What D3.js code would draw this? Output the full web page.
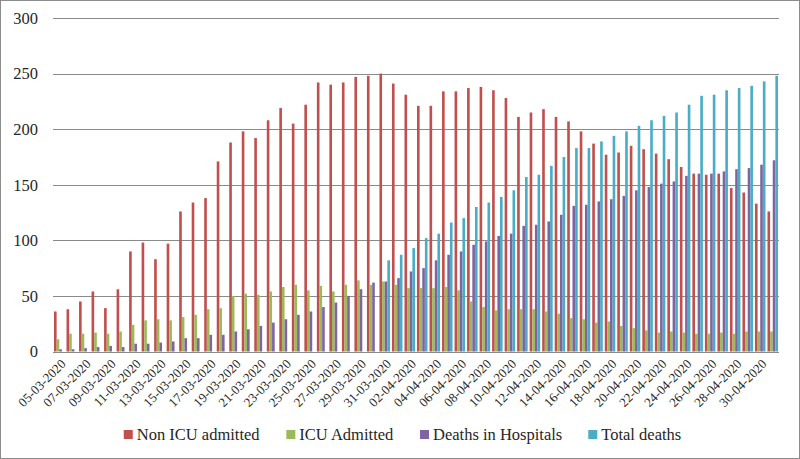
<!DOCTYPE html>
<html>
<head>
<meta charset="utf-8">
<script src="https://cdn.jsdelivr.net/npm/d3@7/dist/d3.min.js"></script>
<style>
  html, body { margin: 0; padding: 0; background: #fff; }
  svg { display: block; }
</style>
</head>
<body>
<svg id="chart" width="800" height="459"></svg>
<script>
const dates = [
  "05-03-2020","06-03-2020","07-03-2020","08-03-2020","09-03-2020","10-03-2020","11-03-2020","12-03-2020",
  "13-03-2020","14-03-2020","15-03-2020","16-03-2020","17-03-2020","18-03-2020","19-03-2020","20-03-2020",
  "21-03-2020","22-03-2020","23-03-2020","24-03-2020","25-03-2020","26-03-2020","27-03-2020","28-03-2020",
  "29-03-2020","30-03-2020","31-03-2020","01-04-2020","02-04-2020","03-04-2020","04-04-2020","05-04-2020",
  "06-04-2020","07-04-2020","08-04-2020","09-04-2020","10-04-2020","11-04-2020","12-04-2020","13-04-2020",
  "14-04-2020","15-04-2020","16-04-2020","17-04-2020","18-04-2020","19-04-2020","20-04-2020","21-04-2020",
  "22-04-2020","23-04-2020","24-04-2020","25-04-2020","26-04-2020","27-04-2020","28-04-2020","29-04-2020",
  "30-04-2020","01-05-2020"
];
const nonIcu = [36,38,45,54,39,56,90,98,83,97,126,134,138,171,188,198,192,208,219,205,222,242,240,242,247,248,250,241,231,221,221,234,234,237,238,235,228,211,215,218,211,207,198,187,177,179,185,182,178,173,166,160,159,160,147,143,133,126];
const icu = [11,16,16,17,16,18,24,28,29,28,31,33,38,39,50,52,51,54,58,60,55,59,54,60,64,60,63,60,57,57,57,58,55,45,40,37,38,38,38,36,34,30,29,26,27,23,21,19,17,18,17,16,16,17,16,18,18,18];
const deathsHosp = [2,2,3,4,5,4,7,7,8,9,12,12,15,15,18,20,23,26,29,33,36,40,44,50,56,62,63,66,72,75,82,87,90,96,99,104,106,113,114,117,123,131,132,135,137,140,145,148,151,153,158,160,160,162,164,165,168,172];
const totalDeaths = [0,0,0,0,0,0,0,0,0,0,0,0,0,0,0,0,0,0,0,0,0,0,0,0,0,0,82,87,93,102,106,116,120,130,134,139,145,157,159,167,175,183,183,189,194,198,203,208,212,215,222,230,231,235,237,239,243,248];
const seriesNames = ["Non ICU admitted","ICU Admitted","Deaths in Hospitals","Total deaths"];
const seriesColors = ["#C0504D","#9BBB59","#8064A2","#4BACC6"];
const yTicks = [0,50,100,150,200,250,300];

const seriesValues = [nonIcu, icu, deathsHosp, totalDeaths];
const data = dates.map((d, i) => ({date: d, values: seriesValues.map(s => s[i])}));

const svg = d3.select("#chart");
const W = 800, H = 459;
const plot = {left: 53, right: 779, top: 18, bottom: 351.5};

svg.append("rect").attr("x", 0.5).attr("y", 0.5).attr("width", W - 1).attr("height", H - 1)
  .attr("fill", "#fff").attr("stroke", "#8c8c8c").attr("stroke-width", 1);

const x0 = d3.scaleBand().domain(dates).range([plot.left, plot.right])
  .paddingInner(0.16).paddingOuter(0.08);
const x1 = d3.scaleBand().domain(d3.range(4)).range([0, x0.bandwidth()]).padding(0);
const y = d3.scaleLinear().domain([0, 300]).range([plot.bottom, plot.top]);

// gridlines
svg.append("g").selectAll("line").data(yTicks).join("line")
  .attr("x1", plot.left).attr("x2", plot.right)
  .attr("y1", d => Math.round(y(d)) + 0.5).attr("y2", d => Math.round(y(d)) + 0.5)
  .attr("stroke", "#8a8a8a").attr("stroke-width", 1);

// y axis labels
const yAxis = d3.axisLeft(y).tickValues(yTicks).tickSize(0).tickPadding(0).tickFormat(d3.format("d"));
const gy = svg.append("g").attr("transform", `translate(${plot.left - 15},0)`).call(yAxis);
gy.select(".domain").remove();
gy.selectAll("text").attr("font-family", "Liberation Serif, serif").attr("font-size", 16.5)
  .attr("fill", "#262626");

// bars
const groups = svg.append("g").selectAll("g").data(data).join("g")
  .attr("transform", d => `translate(${x0(d.date)},0)`);
groups.selectAll("rect").data(d => d.values.map((v, k) => ({k, v}))).join("rect")
  .attr("x", d => x1(d.k))
  .attr("width", x1.bandwidth())
  .attr("y", d => y(d.v))
  .attr("height", d => y(0) - y(d.v))
  .attr("fill", d => seriesColors[d.k]);

// x axis labels
const xAxis = d3.axisBottom(x0).tickValues(dates.filter((d, i) => i % 2 === 0)).tickSize(0).tickPadding(0);
const gx = svg.append("g").attr("transform", `translate(0,${plot.bottom})`).call(xAxis);
gx.select(".domain").remove();
gx.selectAll("text")
  .attr("font-family", "Liberation Serif, serif").attr("font-size", 13).attr("fill", "#262626")
  .attr("text-anchor", "end")
  .attr("dy", "0.35em")
  .attr("transform", "translate(4,10) rotate(-45)");

// legend
const legend = svg.append("g").attr("font-family", "Liberation Serif, serif").attr("font-size", 16.5).attr("fill", "#262626");
const items = legend.selectAll("g").data(seriesNames).join("g");
items.append("rect").attr("width", 9).attr("height", 9).attr("y", -10).attr("fill", (d, i) => seriesColors[i]);
items.append("text").attr("x", 13).attr("y", 0).text(d => d);
let widths = [];
items.each(function() { widths.push(this.getBBox().width); });
const gap = 26;
const total = d3.sum(widths) + gap * (widths.length - 1);
let cx = 402.5 - total / 2;
items.each(function(d, i) {
  d3.select(this).attr("transform", `translate(${cx},440)`);
  cx += widths[i] + gap;
});
</script>
</body>
</html>
